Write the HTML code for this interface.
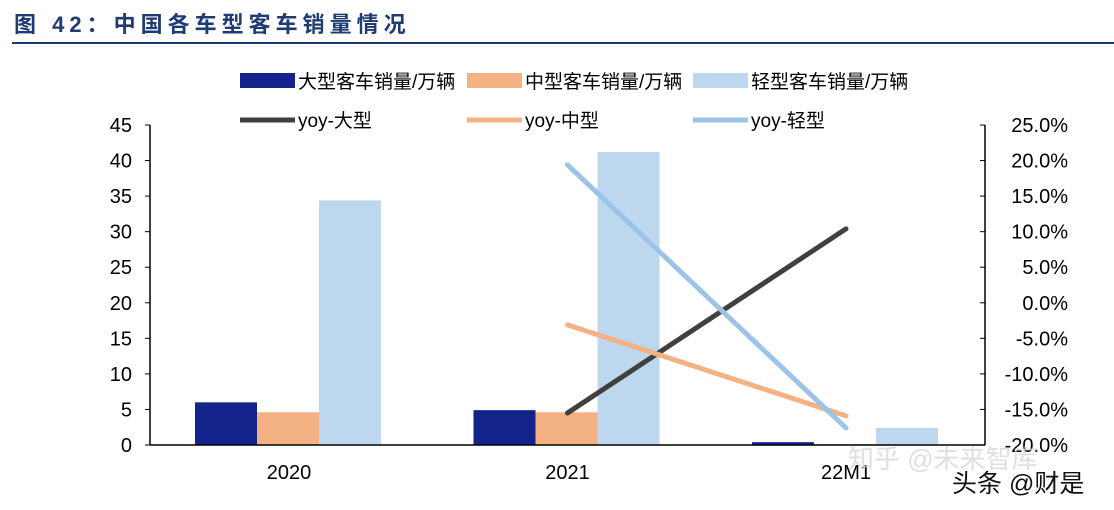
<!DOCTYPE html>
<html><head><meta charset="utf-8"><style>
body{margin:0;background:#fff;width:1114px;height:505px;overflow:hidden;font-family:"Liberation Sans","Noto Sans CJK SC",sans-serif}
svg text{font-family:"Liberation Sans","Noto Sans CJK SC",sans-serif}
</style></head><body>
<svg id="c" width="1114" height="505" xmlns="http://www.w3.org/2000/svg">
<text x="14" y="32" font-size="22" font-weight="bold" fill="#1f3b73" letter-spacing="5">图 42：中国各车型客车销量情况</text>
<rect x="12" y="42" width="1102" height="2" fill="#1f3b73"/>
<g id="legend">
<rect x="240" y="73" width="55" height="15" fill="#14238c"/>
<text x="298" y="88" font-size="19">大型客车销量/万辆</text>
<rect x="467" y="73" width="55" height="15" fill="#f4b183"/>
<text x="525" y="88" font-size="19">中型客车销量/万辆</text>
<rect x="693" y="73" width="55" height="15" fill="#bdd7ee"/>
<text x="751" y="88" font-size="19">轻型客车销量/万辆</text>
<line x1="240" y1="120" x2="295" y2="120" stroke="#404040" stroke-width="5"/>
<text x="298" y="127" font-size="19">yoy-大型</text>
<line x1="467" y1="120" x2="522" y2="120" stroke="#f4b183" stroke-width="5"/>
<text x="525" y="127" font-size="19">yoy-中型</text>
<line x1="693" y1="120" x2="748" y2="120" stroke="#9dc3e6" stroke-width="5"/>
<text x="751" y="127" font-size="19">yoy-轻型</text>
</g>
<g id="plot"></g>
<text x="848" y="468" font-size="26" fill="#d8d8d8" opacity="0.8">知乎 @未来智库</text>
<text x="952" y="492" font-size="25" fill="#111">头条 @财是</text>
</svg>
<script>
const categories=["2020","2021","22M1"];
const largeSales=[6.0,4.9,0.4];
const mediumSales=[4.6,4.6,0.1];
const lightSales=[34.4,41.2,2.4];
const yoyLarge=[null,-15.5,10.4];
const yoyMedium=[null,-3.1,-15.9];
const yoyLight=[null,19.4,-17.6];
const leftTicks=[0,5,10,15,20,25,30,35,40,45];
const rightTicks=[-20,-15,-10,-5,0,5,10,15,20,25];
const NS="http://www.w3.org/2000/svg";
const g=document.getElementById('plot');
const X0=150,X1=985,Y0=445,Y1=125;
const yL=v=>Y0-(v-0)/45*(Y0-Y1);
const yR=v=>Y0-(v+20)/45*(Y0-Y1);
const xC=i=>289+i*278.5;
function mk(t,a){const e=document.createElementNS(NS,t);for(const k in a)e.setAttribute(k,a[k]);g.appendChild(e);return e;}
const bw=62;
const series=[[largeSales,"#14238c","bar-large"],[mediumSales,"#f4b183","bar-medium"],[lightSales,"#bdd7ee","bar-light"]];
series.forEach((s,si)=>{s[0].forEach((v,i)=>{
const x=xC(i)-94+si*bw;
const r=mk('rect',{x:x,y:yL(v),width:bw,height:Y0-yL(v),fill:s[1]});


});});
const lines=[[yoyLarge,"#404040","line-yoy-large"],[yoyMedium,"#f4b183","line-yoy-medium"],[yoyLight,"#9dc3e6","line-yoy-light"]];
lines.forEach(l=>{const pts=[];l[0].forEach((v,i)=>{if(v!==null)pts.push(xC(i)+','+yR(v));});
const p=mk('polyline',{points:pts.join(' '),fill:'none',stroke:l[1],'stroke-width':5,'stroke-linecap':'round'});


});
let a=mk('line',{x1:X0,y1:Y1,x2:X0,y2:Y0,stroke:'#000','stroke-width':1.5});


a=mk('line',{x1:X1,y1:Y1,x2:X1,y2:Y0,stroke:'#000','stroke-width':1.5});


a=mk('line',{x1:X0,y1:Y0,x2:X1,y2:Y0,stroke:'#000','stroke-width':1.5});


leftTicks.forEach(v=>{mk('line',{x1:X0-5,y1:yL(v),x2:X0,y2:yL(v),stroke:'#000'});
const t=mk('text',{x:X0-18,y:yL(v)+7,'font-size':20,'text-anchor':'end'});t.textContent=v;

});
rightTicks.forEach(v=>{mk('line',{x1:X1-5,y1:yR(v),x2:X1,y2:yR(v),stroke:'#000'});
const t=mk('text',{x:1068,y:yR(v)+7,'font-size':20,'text-anchor':'end'});t.textContent=v.toFixed(1)+'%';

});
categories.forEach((c,i)=>{const t=mk('text',{x:xC(i),y:479,'font-size':20,'text-anchor':'middle'});t.textContent=c;

});
</script>
</body></html>
